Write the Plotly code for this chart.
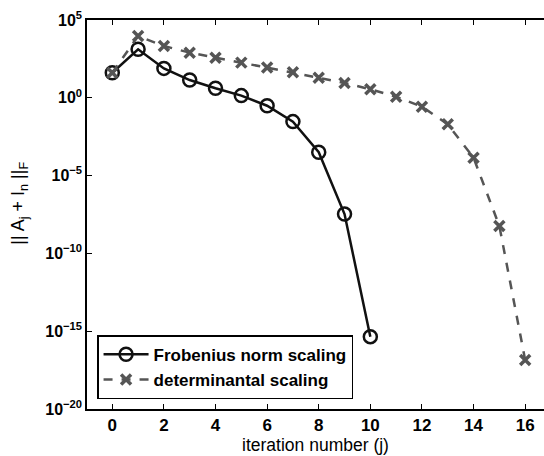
import plotly.graph_objects as go

iters_frob = [0, 1, 2, 3, 4, 5, 6, 7, 8, 9, 10]
log_frob = [1.61, 3.12, 1.89, 1.14, 0.61, 0.14, -0.51, -1.53, -3.5, -7.47, -15.35]

iters_det = [0, 1, 2, 3, 4, 5, 6, 7, 8, 9, 10, 11, 12, 13, 14, 15, 16]
log_det = [1.61, 3.97, 3.33, 2.9, 2.58, 2.26, 1.94, 1.64, 1.29, 0.95, 0.55, 0.07, -0.57, -1.7, -3.85, -8.24, -16.85]

x_ticks = [0, 2, 4, 6, 8, 10, 12, 14, 16]
y_exps = [5, 0, -5, -10, -15, -20]

frob_vals = [10 ** v for v in log_frob]
det_vals = [10 ** v for v in log_det]

FONT = "Liberation Sans, Arial, Helvetica, sans-serif"

fig = go.Figure()
fig.add_trace(go.Scatter(
    x=iters_frob, y=frob_vals, mode="lines+markers",
    name="<b>Frobenius norm scaling</b>",
    line=dict(color="#111111", width=2.5),
    marker=dict(symbol="circle-open", size=13, color="#111111", line=dict(width=2.5)),
))
fig.add_trace(go.Scatter(
    x=iters_det, y=det_vals, mode="lines+markers",
    name="<b>determinantal scaling</b>",
    line=dict(color="#555555", width=2.5, dash="dash"),
    marker=dict(symbol="x-thin", size=10, color="#555555", line=dict(width=3.5, color="#555555")),
))

def fmt(e):
    s = str(e).replace("-", "\u2212")
    return f"<b>10<sup>{s}</sup></b>"

fig.update_layout(
    width=544, height=456,
    margin=dict(l=87, r=0, t=20, b=47),
    paper_bgcolor="white", plot_bgcolor="white",
    font=dict(family=FONT, color="black", size=16),
    showlegend=True,
    legend=dict(
        x=0.022, y=0.025, xanchor="left", yanchor="bottom",
        bgcolor="white", bordercolor="black", borderwidth=1.5,
        font=dict(size=17, family=FONT, color="black"),
        tracegroupgap=0, itemwidth=45,
    ),
    xaxis=dict(
        range=[-0.98, 16.73],
        tickvals=x_ticks,
        ticktext=[f"<b>{v}</b>" for v in x_ticks],
        ticks="inside", ticklen=5, tickwidth=1, tickcolor="black",
        showline=True, linecolor="black", linewidth=1.5, mirror="ticks",
        showgrid=False, zeroline=False,
        title=dict(text="iteration number (j)", font=dict(size=17.5, family=FONT), standoff=2),
        tickfont=dict(size=17),
    ),
    yaxis=dict(
        type="log",
        range=[-20, 5],
        tickvals=[10 ** e for e in y_exps],
        ticktext=[fmt(e) for e in y_exps],
        ticks="inside", ticklen=5, tickwidth=1, tickcolor="black",
        showline=True, linecolor="black", linewidth=1.5,
        showgrid=False, zeroline=False,
        tickfont=dict(size=16),
    ),
    annotations=[dict(
        text="|| A<sub>j</sub> + I<sub>n</sub> ||<sub>F</sub>",
        xref="paper", yref="paper", x=-0.147, y=0.53,
        xanchor="center", yanchor="middle", textangle=-90,
        showarrow=False, font=dict(size=18, family=FONT, color="black"),
    )],
)

fig.write_html("out.html")
